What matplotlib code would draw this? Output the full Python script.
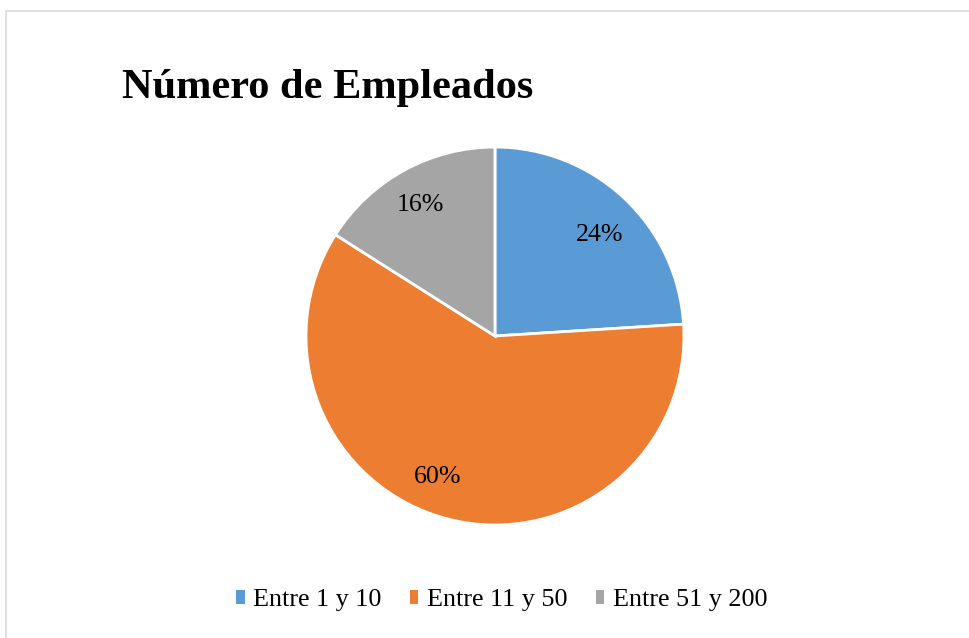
import matplotlib.pyplot as plt
from matplotlib.patches import Rectangle

categories = ['Entre 1 y 10', 'Entre 11 y 50', 'Entre 51 y 200']
shares = [24, 60, 16]
colors = ['#5B9BD5', '#ED7D31', '#A5A5A5']
title = 'Número de Empleados'

# where Excel put the percent labels (in pie radius units)
label_pos = [(0.556, 0.535), (-0.304, -0.745), (-0.397, 0.695)]

plt.rcParams['font.family'] = ['Liberation Serif', 'DejaVu Serif']

fig = plt.figure(figsize=(9.69, 6.38), dpi=100)

# light frame round the chart area
fig.patches.append(Rectangle((6 / 969, -0.05), 1.1, (638 - 11) / 638 + 0.05,
                             transform=fig.transFigure, fill=False,
                             edgecolor='#D9D9D9', linewidth=1.2))

ax = fig.add_axes([0.3158, 0.1771, 0.390, 0.5925])
wedges, texts, autotexts = ax.pie(shares, colors=colors, startangle=90, counterclock=False,
                                  autopct='%d%%', pctdistance=0.79,
                                  wedgeprops=dict(edgecolor='white', linewidth=2),
                                  textprops=dict(fontsize=18.7, color='#000000'))
for t, p in zip(autotexts, label_pos):
    t.set_position(p)
ax.set_aspect('equal')
ax.set_xlim(-1, 1)
ax.set_ylim(-1, 1)

fig.text(122 / 969, 1 - 98 / 638, title, fontsize=30.5, fontweight='bold',
         ha='left', va='baseline')

leg = fig.legend(wedges, categories, loc='center', bbox_to_anchor=(0.518, 1 - 600 / 638),
                 ncol=3, frameon=False, fontsize=18.8, handlelength=0.32, handleheight=0.45,
                 handletextpad=0.34, columnspacing=1.08, borderaxespad=0, borderpad=0)
for h in leg.legend_handles:
    h.set_edgecolor('none')

fig.savefig('out.png', dpi=100)
